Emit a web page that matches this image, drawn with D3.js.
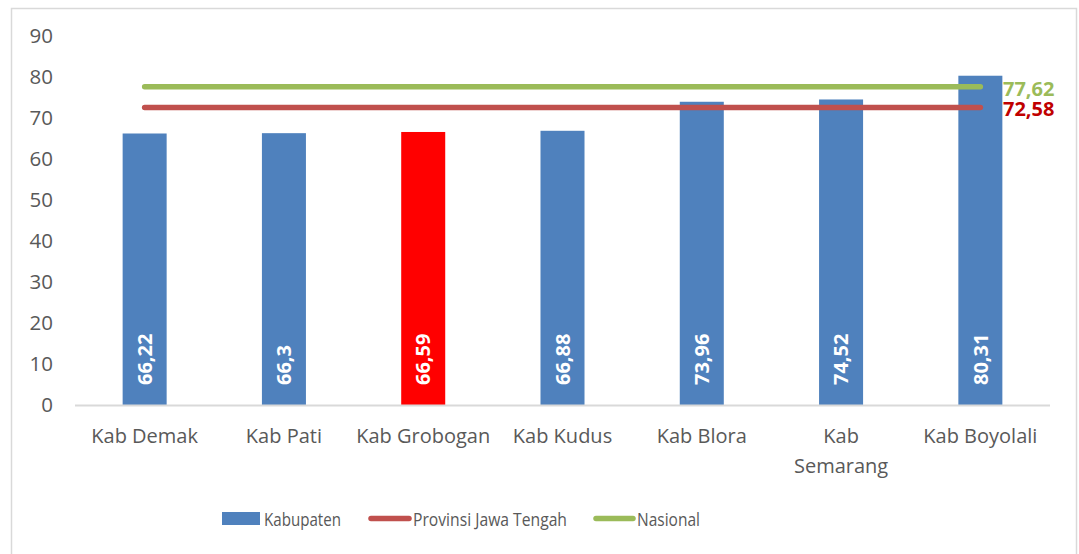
<!DOCTYPE html>
<html>
<head>
<meta charset="utf-8">
<script src="https://cdn.jsdelivr.net/npm/d3@7"></script>
<style>
  body { margin: 0; background: #fff; }
  svg { display: block; font-family: "Open Sans", sans-serif; }
</style>
</head>
<body>
<div id="chart"></div>
<script>
// data
var categories = ["Kab Demak", "Kab Pati", "Kab Grobogan", "Kab Kudus", "Kab Blora", "Kab Semarang", "Kab Boyolali"];
var kabupaten = [66.22, 66.3, 66.59, 66.88, 73.96, 74.52, 80.31];
var kabLabels = ["66,22", "66,3", "66,59", "66,88", "73,96", "74,52", "80,31"];
var provinsi = 72.58, provLabel = "72,58";
var nasional = 77.62, nasLabel = "77,62";
var yTicks = [0, 10, 20, 30, 40, 50, 60, 70, 80, 90];
var highlight = "Kab Grobogan";

var W = 1079, H = 554;

var svg = d3.select("#chart").append("svg")
    .attr("width", W)
    .attr("height", H);

// chart border
svg.append("rect")
    .attr("x", 11.5).attr("y", 8.5)
    .attr("width", 1065).attr("height", 560)
    .attr("fill", "none")
    .attr("stroke", "#d9d9d9")
    .attr("stroke-width", 1.5);

var x = d3.scaleBand()
    .domain(categories)
    .range([75, 1050]);

var y = d3.scaleLinear()
    .domain([0, 90])
    .range([405, 36]);

var barW = x.bandwidth() * 0.316;

// y tick labels
svg.append("g").selectAll("text")
    .data(yTicks)
    .enter().append("text")
    .attr("x", 53)
    .attr("y", function(d) { return y(d); })
    .attr("dy", "0.36em")
    .attr("text-anchor", "end")
    .attr("fill", "#595959")
    .style("font-size", "20.5px")
    .text(function(d) { return d; });

// bars
svg.append("g").selectAll("rect")
    .data(kabupaten)
    .enter().append("rect")
    .attr("x", function(d, i) { return x(categories[i]) + x.bandwidth() / 2 - barW / 2; })
    .attr("y", function(d) { return y(d); })
    .attr("width", barW)
    .attr("height", function(d) { return y(0) - y(d); })
    .attr("fill", function(d, i) { return categories[i] == highlight ? "#ff0000" : "#4f81bd"; });

// bar labels, rotated
svg.append("g").selectAll("text")
    .data(kabupaten)
    .enter().append("text")
    .attr("transform", function(d, i) {
        var cx = x(categories[i]) + x.bandwidth() / 2;
        return "translate(" + cx + "," + (y(0) - 20) + ") rotate(-90)";
    })
    .attr("dy", "0.36em")
    .attr("fill", "#fff")
    .style("font-size", "20px")
    .style("font-weight", "bold")
    .text(function(d, i) { return kabLabels[i]; });

// x axis line
svg.append("line")
    .attr("x1", 75).attr("x2", 1050)
    .attr("y1", y(0) + 0.5).attr("y2", y(0) + 0.5)
    .attr("stroke", "#d9d9d9")
    .attr("stroke-width", 2);

// x labels (wrap Kab Semarang)
var xl = svg.append("g").selectAll("text")
    .data(categories)
    .enter().append("text")
    .attr("x", function(d) { return x(d) + x.bandwidth() / 2; })
    .attr("y", 443)
    .attr("text-anchor", "middle")
    .attr("fill", "#595959")
    .style("font-size", "20px");

xl.each(function(d) {
    var t = d3.select(this);
    if (d == "Kab Semarang") {
        t.append("tspan").attr("x", x(d) + x.bandwidth() / 2).text("Kab");
        t.append("tspan").attr("x", x(d) + x.bandwidth() / 2).attr("dy", 30).text("Semarang");
    } else {
        t.text(d);
    }
});

// reference lines
var xFirst = x(categories[0]) + x.bandwidth() / 2;
var xLast = x(categories[categories.length - 1]) + x.bandwidth() / 2;

var refLines = [
    {value: provinsi, color: "#c0504d", label: provLabel, labelColor: "#c00000"},
    {value: nasional, color: "#9bbb59", label: nasLabel, labelColor: "#9bbb59"}
];

refLines.forEach(function(r) {
    svg.append("line")
        .attr("x1", xFirst).attr("x2", xLast)
        .attr("y1", y(r.value)).attr("y2", y(r.value))
        .attr("stroke", r.color)
        .attr("stroke-width", 5.5)
        .attr("stroke-linecap", "round");
    svg.append("text")
        .attr("x", 1003)
        .attr("y", y(r.value) + 9)
        .attr("fill", r.labelColor)
        .style("font-size", "20px")
        .style("font-weight", "bold")
        .text(r.label);
});

// legend
var legend = svg.append("g");
legend.append("rect")
    .attr("x", 222).attr("y", 512)
    .attr("width", 38).attr("height", 13)
    .attr("fill", "#4f81bd");
legend.append("line")
    .attr("x1", 371).attr("x2", 409)
    .attr("y1", 518.5).attr("y2", 518.5)
    .attr("stroke", "#c0504d").attr("stroke-width", 5.5)
    .attr("stroke-linecap", "round");
legend.append("line")
    .attr("x1", 596).attr("x2", 633)
    .attr("y1", 518.5).attr("y2", 518.5)
    .attr("stroke", "#9bbb59").attr("stroke-width", 5.5)
    .attr("stroke-linecap", "round");

// legend text is narrow in the original, squeeze it a bit
var legItems = [
    {x: 264, text: "Kabupaten", len: 77},
    {x: 413, text: "Provinsi Jawa Tengah", len: 154},
    {x: 637, text: "Nasional", len: 63}
];
legend.selectAll("text")
    .data(legItems)
    .enter().append("text")
    .attr("x", function(d) { return d.x; })
    .attr("y", 519)
    .attr("dy", "0.36em")
    .attr("fill", "#595959")
    .attr("textLength", function(d) { return d.len; })
    .attr("lengthAdjust", "spacingAndGlyphs")
    .style("font-size", "19px")
    .text(function(d) { return d.text; });
</script>
</body>
</html>
